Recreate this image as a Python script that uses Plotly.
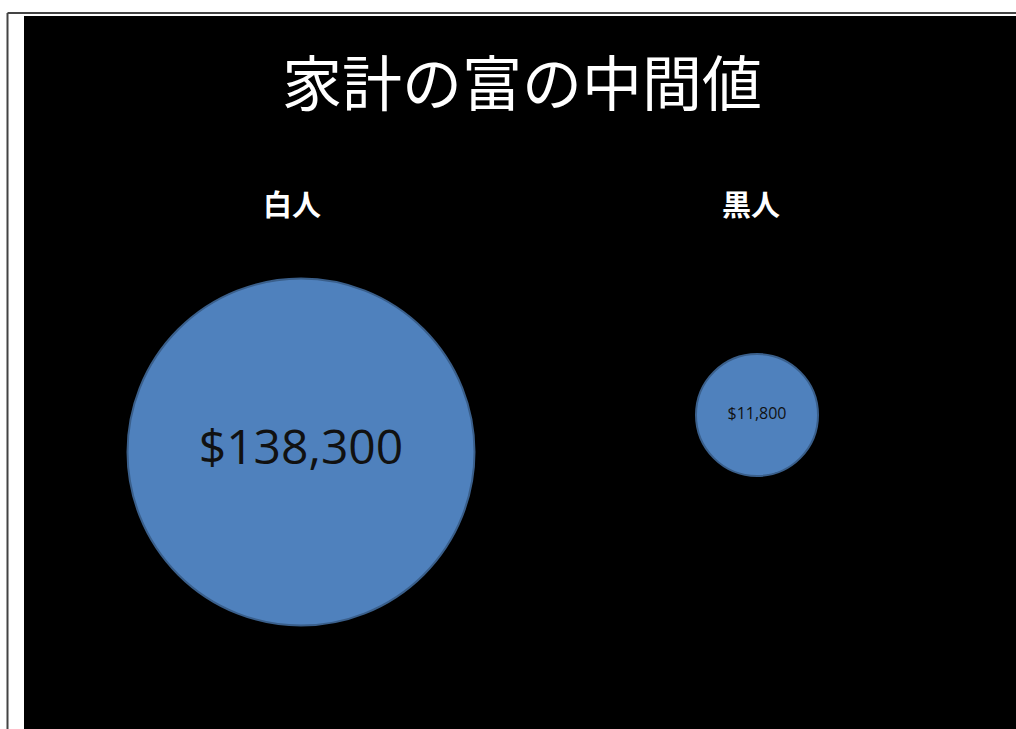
import plotly.graph_objects as go

# Data
groups = ["白人", "黒人"]
wealth = [138300, 11800]
labels = ["$138,300", "$11,800"]
x_pos = [1, 2]
y_pos = [1.0, 1.1]
title_text = "家計の富の中間値"

W, H = 1016, 729

def px(x):
    return x / W

def py(y):
    return 1 - y / H

fig = go.Figure()

fig.add_trace(go.Scatter(
    x=x_pos, y=y_pos, mode="markers+text",
    marker=dict(size=[347, 122], color="#4F81BD",
                line=dict(color="#3A5F8B", width=2), opacity=1),
    text=labels, textposition="middle center",
    textfont=dict(family="Open Sans", size=[48, 16], color="#111111"),
    hoverinfo="skip", showlegend=False, cliponaxis=False,
))

# Axis ranges mapping data to pixels: x 1->301px, 2->757px; y 1.0->452px, 1.1->415px
xs = 456.0
x0 = 1 - 301 / xs
x1 = 1 + (W - 301) / xs
ys = 370.0
ytop = 1.0 + 452 / ys
ybot = 1.0 - (H - 452) / ys

fig.update_layout(
    width=W, height=H,
    margin=dict(l=0, r=0, t=0, b=0),
    paper_bgcolor="white",
    plot_bgcolor="rgba(0,0,0,0)",
    xaxis=dict(range=[x0, x1], visible=False, fixedrange=True),
    yaxis=dict(range=[ybot, ytop], visible=False, fixedrange=True),
    shapes=[
        dict(type="rect", xref="paper", yref="paper", layer="below",
             x0=px(24), x1=px(W + 5), y0=py(H + 5), y1=py(16),
             fillcolor="black", line=dict(width=0)),
        dict(type="line", xref="paper", yref="paper",
             x0=px(7.5), x1=px(7.5), y0=py(H + 5), y1=py(13),
             line=dict(color="#444444", width=2)),
        dict(type="line", xref="paper", yref="paper",
             x0=px(7.5), x1=px(W + 5), y0=py(13), y1=py(13),
             line=dict(color="#444444", width=2)),
    ],
    annotations=[
        dict(text=title_text, xref="paper", yref="paper",
             x=px(522), y=py(80), xanchor="center", yanchor="middle",
             showarrow=False,
             font=dict(family="Noto Sans CJK JP", size=60, color="white")),
    ] + [
        dict(text="<b>" + g + "</b>", xref="x", yref="paper",
             x=xv, y=py(203), xanchor="center", yanchor="middle",
             showarrow=False,
             font=dict(family="Noto Sans CJK JP", size=29, color="white"))
        for g, xv in zip(groups, [1 - 9 / xs, 2 - 6 / xs])
    ],
)

fig.write_html(
    "out.html",
    config={"displayModeBar": False, "staticPlot": True},
    post_script="document.body.style.margin='0';document.body.style.overflow='hidden';",
)
